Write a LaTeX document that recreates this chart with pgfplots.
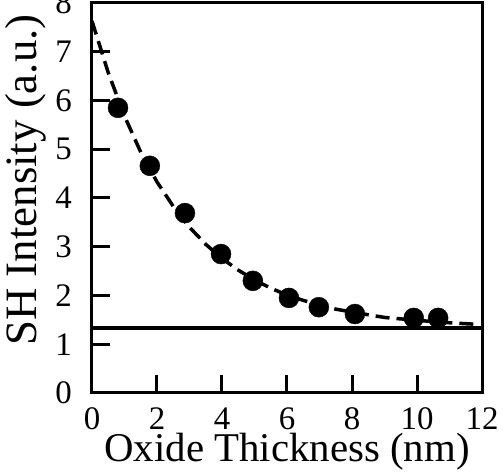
\documentclass[border=0pt]{standalone}
\usepackage{pgfplots}
\pgfplotsset{compat=1.18}
\usepackage{fontspec}
\setmainfont{Liberation Serif}
\begin{document}
\begin{tikzpicture}
\begin{axis}[
  name=ax,
  width=390bp, height=390bp, scale only axis,
  xmin=0, xmax=12, ymin=0, ymax=8,
  xtick={0,2,4,6,8,10,12}, ytick={0,1,2,3,4,5,6,7,8},
  xtick pos=bottom, ytick pos=left,
  tick align=inside,
  major tick length=18bp,
  axis line style={line width=3bp},
  every tick/.style={line width=3bp, black},
  /pgf/number format/assume math mode=true,
  tick label style={font=\fontsize{33}{33}\selectfont, inner sep=0pt},
  xticklabel style={anchor=base, yshift=-37bp},
  yticklabel style={anchor=east, xshift=-20bp},
  label style={inner sep=0pt},
  xlabel={Oxide Thickness (nm)},
  ylabel={SH Intensity (a.u.)},
  xlabel style={font=\fontsize{41}{41}\selectfont, at={(axis description cs:0.5,0)}, anchor=base, yshift=-69bp},
  ylabel style={font=\fontsize{45}{45}\selectfont, at={(axis description cs:0,0.5)}, anchor=base, xshift=18bp, yshift=55bp},
  clip=true,
]
\addplot[black, line width=3.5bp, dash pattern=on 14bp off 7bp] coordinates {
(0,7.63) (0.5,6.57) (1,5.68) (1.5,4.94) (2,4.33) (2.5,3.83) (3,3.40) (3.5,3.05)
(4,2.76) (4.5,2.52) (5,2.32) (5.5,2.15) (6,2.01) (6.5,1.90) (7,1.80) (7.5,1.72)
(8,1.66) (9,1.55) (10,1.49) (11,1.44) (11.8,1.41)};
\addplot[black, line width=3.5bp] coordinates {(0,1.33) (12,1.33)};
\addplot[black, only marks, mark=*, mark size=10bp] coordinates {
(0.8,5.85) (1.78,4.66) (2.86,3.69) (3.97,2.85) (4.95,2.30) (6.06,1.95)
(6.98,1.76) (8.09,1.62) (9.9,1.54) (10.65,1.54)};
\end{axis}
\pgfresetboundingbox
\useasboundingbox ([xshift=-92bp,yshift=-81bp]ax.south west) rectangle ([xshift=21bp,yshift=3bp]ax.north east);
\end{tikzpicture}
\end{document}
